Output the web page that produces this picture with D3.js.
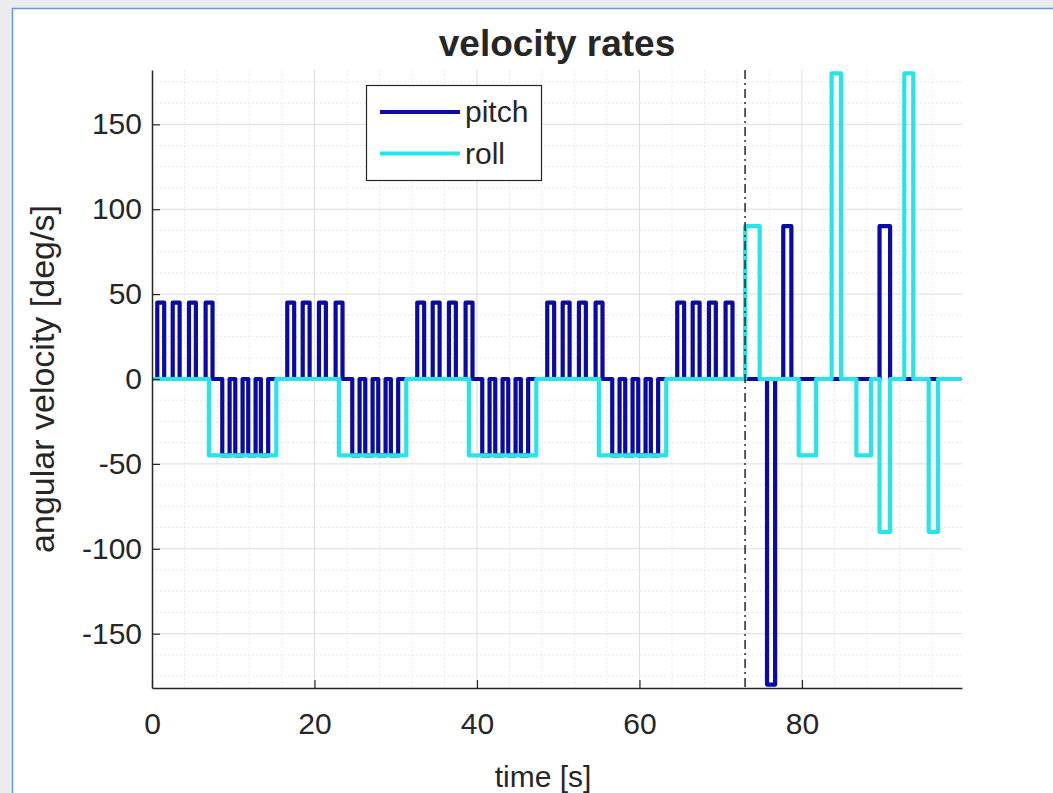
<!DOCTYPE html>
<html>
<head>
<meta charset="utf-8">
<script src="https://cdn.jsdelivr.net/npm/d3@7"></script>
<style>
  html, body { margin: 0; padding: 0; background: #ebebeb; }
  svg { display: block; }
  text { font-family: "Liberation Sans", Arial, Helvetica, sans-serif; fill: #262626; }
</style>
</head>
<body>
<svg id="chart" width="1053" height="793"></svg>
<script>
// ---------------- data ----------------
const chartTitle = "velocity rates";
const xLabel = "time [s]";
const yLabel = "angular velocity [deg/s]";
const seriesNames = ["pitch", "roll"];
const xTicks = [0, 20, 40, 60, 80];
const yTicks = [-150, -100, -50, 0, 50, 100, 150];
const xDomain = [0, 99.7];
const yDomain = [-182, 182];
const tEnd = 99.4;
const eventTime = 73; // dash-dot marker

// pitch rate pulses: start [s], end [s], value [deg/s]
const pitchStart = [
  0.65, 2.55, 4.55, 6.6, 8.65, 10.25, 11.85, 13.4,
  16.65, 18.55, 20.55, 22.6, 24.65, 26.25, 27.85, 29.4,
  32.65, 34.55, 36.55, 38.6, 40.65, 42.25, 43.85, 45.4,
  48.65, 50.55, 52.55, 54.6, 56.65, 58.25, 59.85, 61.4,
  64.65, 66.55, 68.55, 70.6,
  75.7, 77.7, 89.55
];
const pitchEnd = [
  1.5, 3.4, 5.4, 7.45, 9.55, 11.15, 12.75, 14.3,
  17.5, 19.4, 21.4, 23.45, 25.55, 27.15, 28.75, 30.3,
  33.5, 35.4, 37.4, 39.45, 41.55, 43.15, 44.75, 46.3,
  49.5, 51.4, 53.4, 55.45, 57.55, 59.15, 60.75, 62.3,
  65.5, 67.4, 69.4, 71.45,
  76.7, 78.7, 90.85
];
const pitchValue = [
  45, 45, 45, 45, -45, -45, -45, -45,
  45, 45, 45, 45, -45, -45, -45, -45,
  45, 45, 45, 45, -45, -45, -45, -45,
  45, 45, 45, 45, -45, -45, -45, -45,
  45, 45, 45, 45,
  -180, 90, 90
];

// roll rate pulses
const rollStart = [7.0, 23.0, 39.0, 55.0, 73.0, 79.6, 83.65, 86.7, 89.55, 92.6, 95.6];
const rollEnd   = [15.3, 31.3, 47.3, 63.3, 74.8, 81.75, 84.8, 88.5, 90.85, 93.7, 96.75];
const rollValue = [-45, -45, -45, -45, 90, -45, 180, -45, -90, 180, -90];

const colors = ["#0a0aa6", "#26e4e8"];

// ---------------- layout ----------------
const svg = d3.select("#chart");
const W = 1053, H = 793;
const m = { left: 152, right: 962, top: 70, bottom: 688 };

// figure panel
svg.append("rect").attr("x", 0).attr("y", 0).attr("width", W).attr("height", H).attr("fill", "#ebebeb");
svg.append("rect").attr("x", 12.5).attr("y", 8.5).attr("width", W + 20).attr("height", H + 20)
  .attr("fill", "#ffffff").attr("stroke", "#5f9ad2").attr("stroke-width", 1.5);

const x = d3.scaleLinear().domain(xDomain).range([m.left, m.right]);
const y = d3.scaleLinear().domain(yDomain).range([m.bottom, m.top]);

// minor grid
const xMinor = d3.range(0, xDomain[1], 4).filter(v => !xTicks.includes(v));
const yMinor = d3.range(-175, 181, 12.5).filter(v => !yTicks.includes(v));
const grid = svg.append("g");
grid.selectAll(".xm").data(xMinor).join("line")
  .attr("x1", d => x(d)).attr("x2", d => x(d)).attr("y1", m.top).attr("y2", m.bottom)
  .attr("stroke", "#e2e2e2").attr("stroke-width", 1).attr("stroke-dasharray", "1.5,2.5");
grid.selectAll(".ym").data(yMinor).join("line")
  .attr("x1", m.left).attr("x2", m.right).attr("y1", d => y(d)).attr("y2", d => y(d))
  .attr("stroke", "#e2e2e2").attr("stroke-width", 1).attr("stroke-dasharray", "1.5,2.5");
// major grid
grid.selectAll(".xM").data(xTicks.filter(v => v > 0)).join("line")
  .attr("x1", d => x(d)).attr("x2", d => x(d)).attr("y1", m.top).attr("y2", m.bottom)
  .attr("stroke", "#dcdcdc").attr("stroke-width", 1);
grid.selectAll(".yM").data(yTicks).join("line")
  .attr("x1", m.left).attr("x2", m.right).attr("y1", d => y(d)).attr("y2", d => y(d))
  .attr("stroke", "#dcdcdc").attr("stroke-width", 1);

// clip
svg.append("clipPath").attr("id", "clip").append("rect")
  .attr("x", m.left).attr("y", m.top).attr("width", m.right - m.left).attr("height", m.bottom - m.top);

function buildSeries(starts, ends, vals) {
  const pts = [[0, 0]];
  starts.forEach((s, i) => {
    pts.push([s, 0], [s, vals[i]], [ends[i], vals[i]], [ends[i], 0]);
  });
  pts.push([tEnd, 0]);
  return pts;
}
const pitchPts = buildSeries(pitchStart, pitchEnd, pitchValue);
const rollPts = buildSeries(rollStart, rollEnd, rollValue);

const line = d3.line().x(d => x(d[0])).y(d => y(d[1]));
const plot = svg.append("g").attr("clip-path", "url(#clip)");
[pitchPts, rollPts].forEach((pts, i) => {
  plot.append("path").datum(pts).attr("d", line)
    .attr("fill", "none").attr("stroke", colors[i]).attr("stroke-width", 4.2)
    .attr("stroke-linejoin", "round").attr("stroke-linecap", "round");
});

// dash-dot marker
svg.append("line").attr("x1", x(eventTime)).attr("x2", x(eventTime))
  .attr("y1", m.top).attr("y2", m.bottom)
  .attr("stroke", "#262626").attr("stroke-width", 1.5).attr("stroke-dasharray", "9,4,2,4");

// axes
const fmt = d => String(d); // hyphen-minus like MATLAB
const xAxis = d3.axisBottom(x).tickValues(xTicks).tickFormat(fmt).tickSizeInner(-8).tickSizeOuter(0).tickPadding(20);
const yAxis = d3.axisLeft(y).tickValues(yTicks).tickFormat(fmt).tickSizeInner(-8).tickSizeOuter(0).tickPadding(18);
const gx = svg.append("g").attr("transform", `translate(0,${m.bottom})`).call(xAxis);
const gy = svg.append("g").attr("transform", `translate(${m.left},0)`).call(yAxis);
[gx, gy].forEach(g => {
  g.select(".domain").attr("stroke", "#262626").attr("stroke-width", 1.5);
  g.selectAll(".tick line").attr("stroke", "#262626").attr("stroke-width", 1.2);
  g.selectAll(".tick text").attr("font-size", 30).attr("fill", "#262626")
    .attr("font-family", "Liberation Sans, Arial, sans-serif");
});
gy.selectAll(".tick text").attr("dx", 8);
gx.selectAll(".tick text").attr("dy", "0.85em");

// title & labels
svg.append("text").attr("x", (m.left + m.right) / 2).attr("y", 56)
  .attr("text-anchor", "middle").attr("font-size", 37).attr("font-weight", "bold")
  .attr("fill", "#000").text(chartTitle);
svg.append("text").attr("x", (m.left + m.right) / 2 - 14).attr("y", 787)
  .attr("text-anchor", "middle").attr("font-size", 30).text(xLabel);
svg.append("text").attr("transform", `translate(54,${(m.top + m.bottom) / 2}) rotate(-90)`)
  .attr("text-anchor", "middle").attr("font-size", 34).text(yLabel);

// legend
const lg = svg.append("g");
lg.append("rect").attr("x", 366.5).attr("y", 85.5).attr("width", 175).attr("height", 95)
  .attr("fill", "#ffffff").attr("stroke", "#262626").attr("stroke-width", 1.2);
seriesNames.forEach((name, i) => {
  const ly = 112 + i * 41.5;
  lg.append("line").attr("x1", 380).attr("x2", 460).attr("y1", ly).attr("y2", ly)
    .attr("stroke", colors[i]).attr("stroke-width", 4.2);
  lg.append("text").attr("x", 465).attr("y", ly + 10).attr("font-size", 30).text(name);
});
</script>
</body>
</html>
